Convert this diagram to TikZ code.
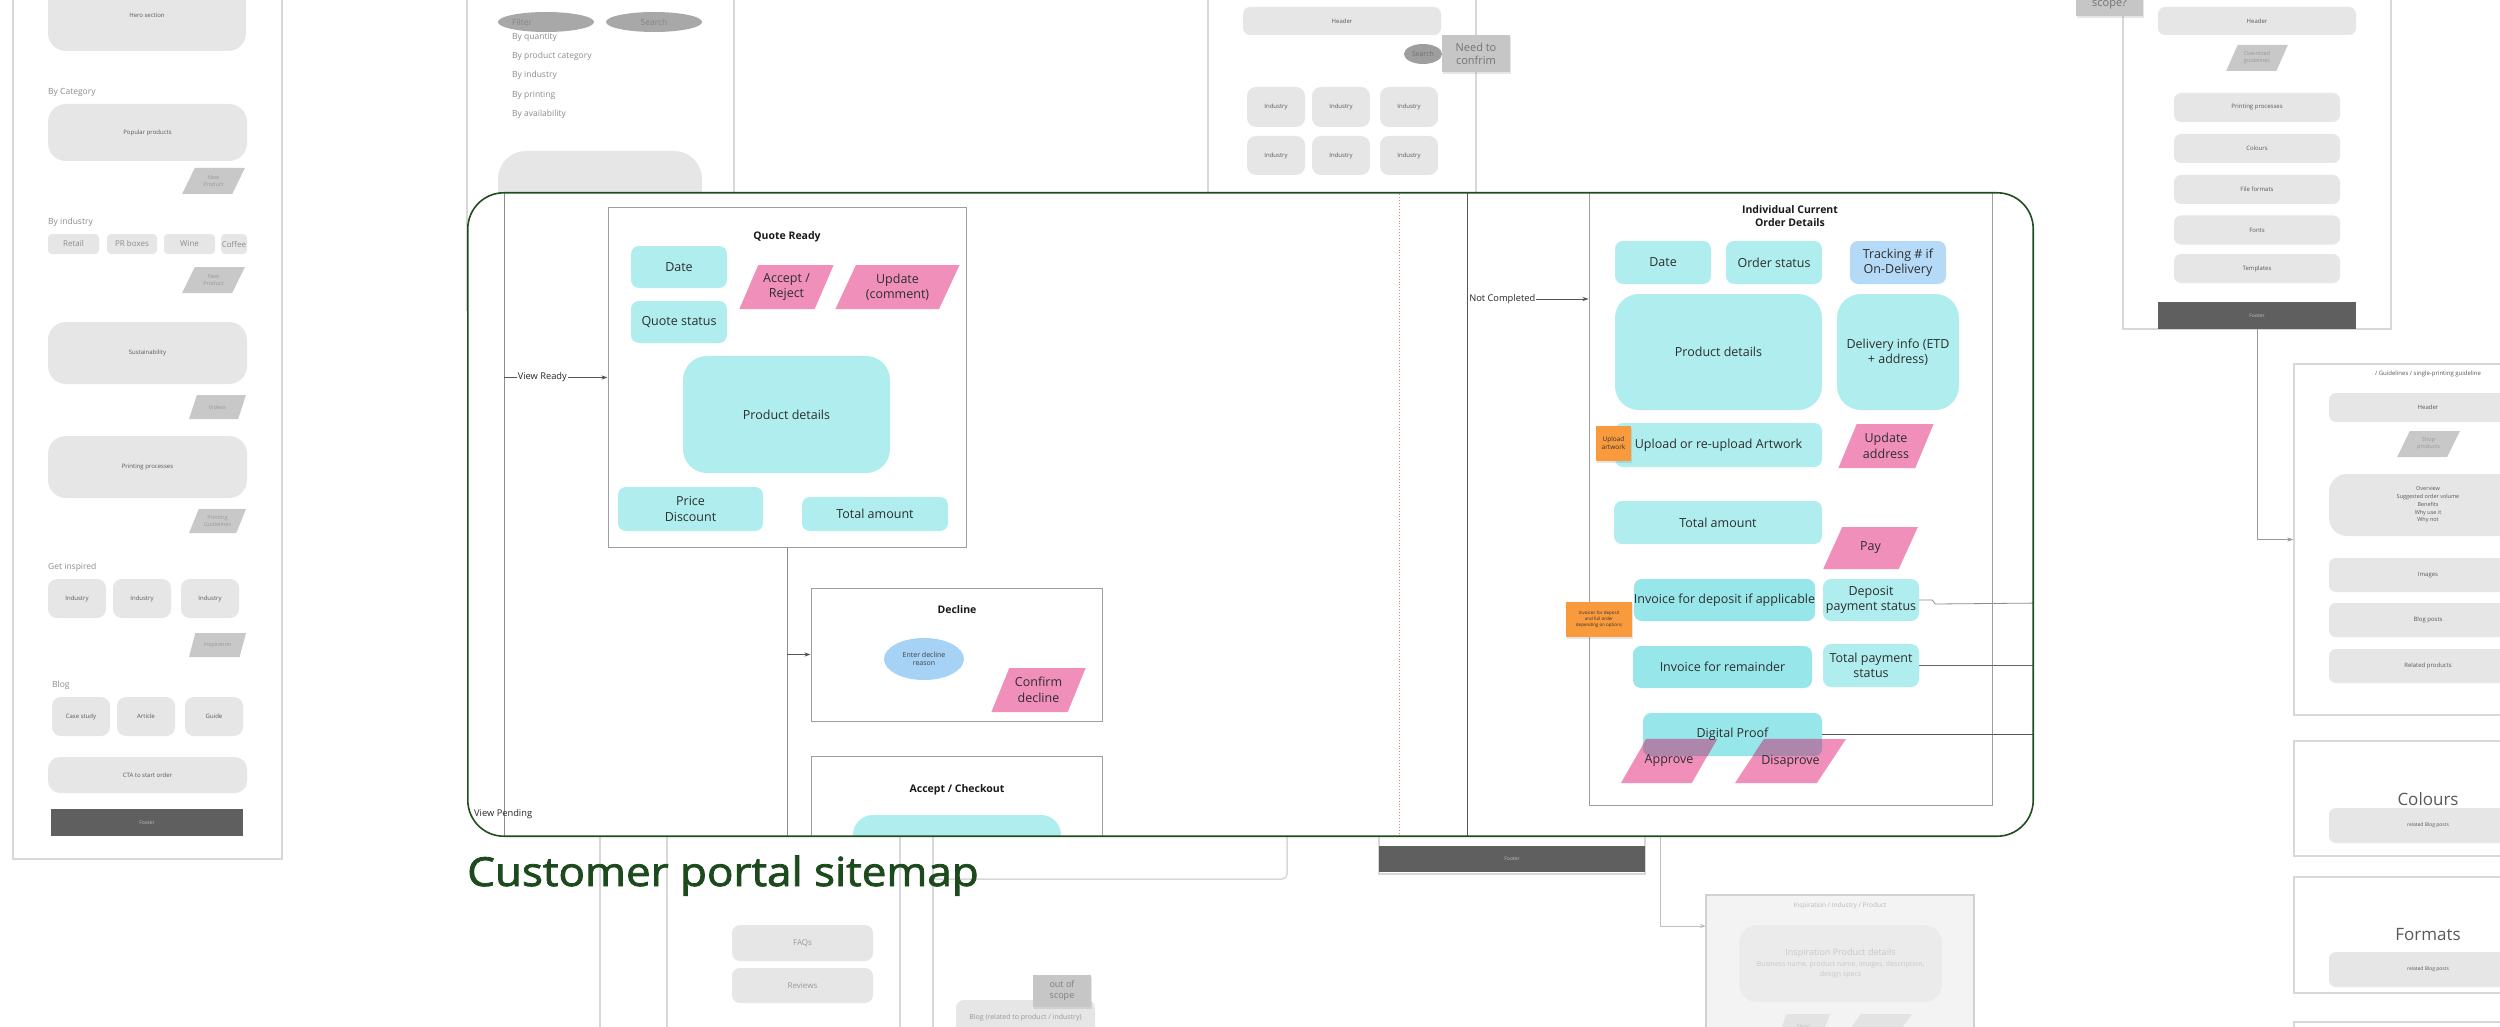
\documentclass[tikz,border=0pt]{standalone}
\usepackage{fontspec}
\setmainfont{Open Sans}
\newfontfamily\titlefont{Open Sans}[FakeStretch=1.1, FakeBold=2]
\usetikzlibrary{arrows.meta, positioning, shapes.geometric, shadows}

\definecolor{cyanbox}{HTML}{AFEDEE}
\definecolor{cyandark}{HTML}{97E6EA}
\definecolor{pinkbox}{HTML}{EF8FBA}
\definecolor{overlapcol}{HTML}{AE86AB}
\definecolor{bluebox}{HTML}{B5DAF7}
\definecolor{blueell}{HTML}{A6D2F6}
\definecolor{boxgray}{HTML}{E6E6E6}
\definecolor{paragray}{HTML}{C8C8C8}
\definecolor{notegray}{HTML}{C6C6C6}
\definecolor{footgray}{HTML}{5F5F5F}
\definecolor{panelgray}{HTML}{D8D8D8}
\definecolor{framegreen}{HTML}{1F4D1F}
\definecolor{titlegreen}{HTML}{1D4A1D}
\definecolor{notecol}{HTML}{F99A3D}
\definecolor{txtdark}{HTML}{2E2E2E}
\definecolor{txtgray}{HTML}{8C8C8C}
\definecolor{linegray}{HTML}{555555}
\definecolor{fadegray}{HTML}{F3F3F3}

\begin{document}
\begin{tikzpicture}[
      x=1pt, y=-1pt,
      panel/.style={rectangle, draw=panelgray, line width=1.5pt, fill=white, inner sep=0pt},
      gbox/.style={rectangle, rounded corners=7pt, fill=boxgray, inner sep=0pt, text=black!65, font=\fontsize{6}{7.5}\selectfont, align=center},
      tag/.style={gbox, rounded corners=4pt, text=txtgray, font=\fontsize{8}{9}\selectfont},
      gpara/.style={trapezium, trapezium left angle=60, trapezium right angle=120, trapezium stretches=true, fill=paragray, inner sep=1pt, text=black!40, font=\fontsize{5.5}{7}\selectfont, align=center},
      glabel/.style={text=txtgray, font=\fontsize{8.5}{10}\selectfont, anchor=west, inner sep=0pt},
      foot/.style={rectangle, fill=footgray, inner sep=0pt, text=black!25, font=\fontsize{5}{6}\selectfont},
      gnote/.style={rectangle, fill=notegray, inner sep=0pt, text=black!55, align=center, drop shadow={opacity=0.2, shadow xshift=1pt, shadow yshift=-2pt}},
      frame/.style={rectangle, draw=black!38, line width=1pt, inner sep=0pt},
      ftitle/.style={font=\fontsize{10.5}{13.5}\selectfont\bfseries, text=black!90, align=center},
      cbox/.style={rectangle, rounded corners=8pt, fill=cyanbox, inner sep=0pt, text=txtdark, font=\fontsize{12.5}{15.5}\selectfont, align=center},
      pbox/.style={trapezium, trapezium left angle=61, trapezium right angle=119, trapezium stretches=true, fill=pinkbox, inner sep=1pt, text=txtdark, font=\fontsize{12.5}{15.5}\selectfont, align=center},
      onote/.style={rectangle, fill=notecol, inner sep=0pt, text=black!80, align=center, drop shadow={opacity=0.2, shadow xshift=1pt, shadow yshift=-2pt}},
      lbl/.style={font=\fontsize{9.3}{11}\selectfont, text=black!85, fill=white, inner sep=1pt},
      arrow/.style={-{Stealth[length=6pt, width=4pt]}, draw=linegray, line width=0.8pt},
      link/.style={draw=linegray, line width=0.8pt},
      pline/.style={draw=panelgray, line width=1.5pt}
  ]
      \useasboundingbox (0,0) rectangle (2500,1027);

      % Home page panel
      \node[panel, minimum width=269, minimum height=869] (homepg) at (147.5,424.5) {};
      \node[gbox, minimum width=198, minimum height=71, rounded corners=18pt] (hero) at (147,15.5) {Hero section};
      \node[glabel] (bycat) at (48,92) {By Category};
      \node[gbox, minimum width=199, minimum height=57, rounded corners=18pt] (popular) at (147.5,132.5) {Popular products};
      \node[gpara, minimum width=63, minimum height=26] (newprod) at (213.5,181) {New\\Product};
      \node[glabel] (byind) at (48,222) {By industry};
      \node[tag, minimum width=51, minimum height=20] (retail) at (73.5,244) {Retail};
      \node[tag, minimum width=50, minimum height=20] (prboxes) at (132,244) {PR boxes};
      \node[tag, minimum width=51, minimum height=20] (wine) at (189.5,244) {Wine};
      \node[tag, minimum width=26, minimum height=20] (coffee) at (234,244) {Coffee};
      \node[gpara, minimum width=63, minimum height=26] (newprodb) at (213.5,280) {New\\Product};
      \node[gbox, minimum width=199, minimum height=62, rounded corners=18pt] (sustain) at (147.5,353) {Sustainability};
      \node[gpara, minimum width=57, minimum height=24] (videos) at (217.5,407) {Videos};
      \node[gbox, minimum width=199, minimum height=62, rounded corners=18pt] (printing) at (147.5,467) {Printing processes};
      \node[gpara, minimum width=57, minimum height=24] (pguide) at (217.5,521) {Printing\\Guidelines};
      \node[glabel] (getinsp) at (48,567) {Get inspired};
      \node[gbox, minimum width=58, minimum height=39, rounded corners=9pt] (inda) at (77,598.5) {Industry};
      \node[gbox, minimum width=58, minimum height=39, rounded corners=9pt] (indb) at (142,598.5) {Industry};
      \node[gbox, minimum width=58, minimum height=39, rounded corners=9pt] (indc) at (210,598.5) {Industry};
      \node[gpara, minimum width=57, minimum height=24] (inspire) at (217.5,645) {Inspiration};
      \node[glabel] (bloglbl) at (52,685) {Blog};
      \node[gbox, minimum width=58, minimum height=39, rounded corners=9pt] (casestudy) at (81,716.5) {Case study};
      \node[gbox, minimum width=58, minimum height=39, rounded corners=9pt] (article) at (146,716.5) {Article};
      \node[gbox, minimum width=58, minimum height=39, rounded corners=9pt] (guide) at (214,716.5) {Guide};
      \node[gbox, minimum width=199, minimum height=36, rounded corners=12pt] (cta) at (147.5,775) {CTA to start order};
      \node[foot, minimum width=192, minimum height=27] (homefoot) at (147,822.5) {Footer};

      % Catalogue panel
      \node[panel, minimum width=267, minimum height=320] (catpg) at (600.5,150) {};
      \node[ellipse, fill=black!34, minimum width=96, minimum height=20, inner sep=0pt] (filter) at (546,22) {};
      \node[glabel, text=black!48] (filtertxt) at (512,22) {Filter};
      \node[ellipse, fill=black!34, minimum width=96, minimum height=20, inner sep=0pt, text=black!48, font=\fontsize{8.5}{10}\selectfont] (search) at (654,22) {Search};
      \node[glabel] (byqty) at (512,37) {By quantity};
      \node[glabel] (bycategory) at (512,56) {By product category};
      \node[glabel] (byindustry) at (512,75) {By industry};
      \node[glabel] (byprint) at (512,95) {By printing};
      \node[glabel] (byavail) at (512,114) {By availability};
      \node[gbox, minimum width=204, minimum height=149, rounded corners=28pt] (catbig) at (600,225.5) {};

      % Industry panel
      \node[panel, minimum width=268, minimum height=320] (indpg) at (1342,150) {};
      \node[gbox, minimum width=198, minimum height=28] (headerc) at (1342,21) {Header};
      \node[ellipse, fill=black!38, minimum width=38, minimum height=20, inner sep=0pt, text=black!55, font=\fontsize{7}{8}\selectfont] (searchc) at (1423,54) {Search};
      \node[gnote, minimum width=68, minimum height=37, font=\fontsize{11}{13}\selectfont] (confirmnote) at (1476,53.5) {Need to\\confrim};
      \node[gbox, minimum width=58, minimum height=40, rounded corners=9pt] (igrida) at (1276,107) {Industry};
      \node[gbox, minimum width=58, minimum height=40, rounded corners=9pt] (igridb) at (1341,107) {Industry};
      \node[gbox, minimum width=58, minimum height=40, rounded corners=9pt] (igridc) at (1409,107) {Industry};
      \node[gbox, minimum width=58, minimum height=39, rounded corners=9pt] (igridd) at (1276,155.5) {Industry};
      \node[gbox, minimum width=58, minimum height=39, rounded corners=9pt] (igride) at (1341,155.5) {Industry};
      \node[gbox, minimum width=58, minimum height=39, rounded corners=9pt] (igridf) at (1409,155.5) {Industry};

      % Orders panel with footer
      \node[panel, minimum width=266, minimum height=574] (orderpg) at (1512,587) {};
      \node[foot, minimum width=266, minimum height=26] (orderfoot) at (1512,859) {Footer};

      % Lower panels
      \node[panel, minimum width=266, minimum height=400] (faqpg) at (800,900) {};
      \draw[pline] (600,830) -- (600,1040);
      \draw[pline] (900,830) -- (900,1040);
      \coordinate (faqturn) at (1287,879);
      \coordinate (faqend) at (1287,830);
      \draw[pline, rounded corners=5pt] (faqpg.east |- faqturn) -- (faqturn) -- (faqend);
      \node[gbox, minimum width=141, minimum height=36, rounded corners=8pt, text=black!40, font=\fontsize{8}{9}\selectfont] (faqs) at (802.5,943) {FAQs};
      \node[gbox, minimum width=141, minimum height=35, rounded corners=8pt, text=black!40, font=\fontsize{8}{9}\selectfont] (reviews) at (802.5,985.5) {Reviews};
      \node[gbox, minimum width=139, minimum height=36, rounded corners=8pt, text=black!40, font=\fontsize{7}{8}\selectfont] (blogrel) at (1025.5,1018) {Blog (related to product / industry)};
      \node[gnote, minimum width=58, minimum height=32, font=\fontsize{9}{11}\selectfont, text=black!50] (scopenote) at (1062,991) {out of\\scope};

      % Inspiration panel
      \node[panel, fill=fadegray, draw=black!18, minimum width=268, minimum height=165] (insppg) at (1840,977.5) {};
      \node[font=\fontsize{6.5}{8}\selectfont, text=black!28] (insptitle) at (1840,906) {Inspiration / Industry / Product};
      \node[gbox, fill=black!8, minimum width=203, minimum height=77, rounded corners=18pt, text=black!22, font=\fontsize{7}{10.5}\selectfont] (inspbox) at (1840.5,963.5) {{\fontsize{9}{10.5}\selectfont Inspiration Product details}\\Business name, product name, images, description,\\design specs};
      \node[gpara, fill=black!11, text=black!25, minimum width=53, minimum height=26] (inspshop) at (1803.5,1027) {Shop};
      \node[gpara, fill=black!11, minimum width=70, minimum height=26] (inspother) at (1877,1027) {};
      \coordinate (inspsrc) at (1660,830);
      \coordinate (inspin) at (1706,926);
      \draw[arrow, draw=black!25] (inspsrc) |- (inspin);

      % Guidelines panel
      \node[panel, minimum width=268, minimum height=339] (guidepg) at (2257,159.5) {};
      \node[gnote, minimum width=67, minimum height=46] (scopeq) at (2109.5,-7) {};
      \node[text=black!55, font=\fontsize{11}{13}\selectfont, inner sep=0pt] (scopetxt) at (2109.5,4) {scope?};
      \node[gbox, minimum width=198, minimum height=28] (headerd) at (2257,21) {Header};
      \node[gpara, minimum width=62, minimum height=26] (dlguide) at (2257,58) {Download\\guidelines};
      \node[gbox, minimum width=166, minimum height=29] (gprint) at (2257,107.5) {Printing processes};
      \node[gbox, minimum width=166, minimum height=29] (gcolours) at (2257,148.5) {Colours};
      \node[gbox, minimum width=166, minimum height=29] (gformats) at (2257,189.5) {File formats};
      \node[gbox, minimum width=166, minimum height=29] (gfonts) at (2257,230) {Fonts};
      \node[gbox, minimum width=166, minimum height=29] (gtemplates) at (2257,268.5) {Templates};
      \node[foot, minimum width=198, minimum height=27] (guidefoot) at (2257,315.5) {Footer};

      % Single guideline panels
      \node[panel, minimum width=266, minimum height=351] (singlepg) at (2427,539.5) {};
      \draw[arrow, draw=black!40] (guidefoot.south) |- (singlepg.west);
      \node[gbox, fill=none, font=\fontsize{6}{7}\selectfont] (singletitle) at (2428,374) {/ Guidelines / single-printing guideline};
      \node[gbox, minimum width=198, minimum height=29] (headere) at (2428,407.5) {Header};
      \node[gpara, minimum width=63, minimum height=26] (shopprod) at (2428.5,444) {Shop\\products};
      \node[gbox, minimum width=198, minimum height=62, rounded corners=18pt, font=\fontsize{5.5}{7.7}\selectfont] (overview) at (2428,505) {Overview\\Suggested order volume\\Benefits\\Why use it\\Why not};
      \node[gbox, minimum width=198, minimum height=34] (images) at (2428,575) {Images};
      \node[gbox, minimum width=198, minimum height=34] (blogposts) at (2428,620) {Blog posts};
      \node[gbox, minimum width=198, minimum height=34] (related) at (2428,666) {Related products};
      \node[panel, minimum width=266, minimum height=115] (colourpg) at (2427,798.5) {};
      \node[text=black!65, font=\fontsize{17}{20}\selectfont, inner sep=0pt] (colourtxt) at (2428,799) {Colours};
      \node[gbox, minimum width=198, minimum height=35, font=\fontsize{5}{6}\selectfont] (colourblog) at (2428,825.5) {related Blog posts};
      \node[panel, minimum width=266, minimum height=116] (formatpg) at (2427,935) {};
      \node[text=black!65, font=\fontsize{17}{20}\selectfont, inner sep=0pt] (formattxt) at (2428,935) {Formats};
      \node[gbox, minimum width=198, minimum height=35, font=\fontsize{5}{6}\selectfont] (formatblog) at (2428,969.5) {related Blog posts};
      \node[panel, minimum width=266, minimum height=100] (nextpg) at (2427,1072) {};

      % Customer portal frame
      \node[rectangle, rounded corners=36pt, fill=white, minimum width=1565, minimum height=643, inner sep=0pt] (portal) at (1250.5,514.5) {};
      \begin{scope}
        \clip[rounded corners=36pt] (portal.south west) rectangle (portal.north east);

        % View Ready branch
        \coordinate (vrtop) at (504,180);
        \coordinate (vrbot) at (504,850);
        \draw[link, draw=black!45] (vrtop) -- (vrbot);
        \node[frame, minimum width=358, minimum height=339] (quote) at (787,377.5) {};
        \draw[arrow] (vrtop |- quote.west) -- node[lbl, pos=0.37] (viewready) {View Ready} (quote.west);
        \node[ftitle] (quotetitle) at (787,237) {Quote Ready};
        \node[cbox, minimum width=96, minimum height=42] (qdate) at (679,267) {Date};
        \node[cbox, minimum width=96, minimum height=42] (qstatus) at (679,322) {Quote status};
        \node[pbox, minimum width=95, minimum height=44] (qaccept) at (786.5,287) {Accept /\\Reject};
        \node[pbox, minimum width=125, minimum height=44] (qupdate) at (897.5,287) {Update\\(comment)};
        \node[cbox, minimum width=207, minimum height=117, rounded corners=24pt] (qproduct) at (786.5,414.5) {Product details};
        \node[cbox, minimum width=145, minimum height=44] (qprice) at (690.5,509) {Price\\Discount};
        \node[cbox, minimum width=146, minimum height=34] (qtotal) at (875,514) {Total amount};

        % Decline and checkout
        \coordinate (qbot) at (787,850);
        \draw[link, draw=black!45] (quote.south) -- (qbot);
        \node[frame, minimum width=291, minimum height=133] (decline) at (956.5,654.5) {};
        \draw[arrow] (quote.south |- decline.west) -- (decline.west);
        \node[ftitle] (declinetitle) at (957,610) {Decline};
        \node[ellipse, fill=blueell, minimum width=80, minimum height=42, inner sep=0pt, align=center, text=black!75, font=\fontsize{7}{8.5}\selectfont] (reason) at (924,659) {Enter decline\\reason};
        \node[pbox, minimum width=95, minimum height=44] (confirm) at (1038.5,690) {Confirm\\decline};
        \node[frame, minimum width=291, minimum height=140] (checkout) at (956.5,826) {};
        \node[ftitle] (checkouttitle) at (957,790) {Accept / Checkout};
        \node[cbox, minimum width=208, minimum height=70, rounded corners=20pt] (checkoutbox) at (957,850) {};

        % Not completed branch
        \draw[red!55, dotted, line width=0.9pt] (1399,180) -- (1399,850);
        \coordinate (nctop) at (1467,180);
        \coordinate (ncbot) at (1467,850);
        \draw[link] (nctop) -- (ncbot);
        \node[frame, minimum width=403, minimum height=625] (order) at (1790.5,492.5) {};
        \coordinate (ncjoin) at (1467,299);
        \draw[arrow] (ncjoin) -- node[lbl, pos=0.29] (notdone) {Not Completed} (ncjoin -| order.west);
        \node[ftitle] (ordertitle) at (1790,216) {Individual Current\\Order Details};
        \node[cbox, minimum width=96, minimum height=43] (odate) at (1663,262.5) {Date};
        \node[cbox, minimum width=96, minimum height=43] (ostatus) at (1774,262.5) {Order status};
        \node[cbox, fill=bluebox, minimum width=96, minimum height=43] (otrack) at (1898,262.5) {Tracking \# if\\On-Delivery};
        \node[cbox, minimum width=207, minimum height=116, rounded corners=24pt] (oproduct) at (1718.5,352) {Product details};
        \node[cbox, minimum width=122, minimum height=116, rounded corners=24pt] (odelivery) at (1898,352) {Delivery info (ETD\\+ address)};
        \node[cbox, minimum width=207, minimum height=44] (oupload) at (1718.5,445) {Upload or re-upload Artwork};
        \node[onote, minimum width=35, minimum height=35, font=\fontsize{6.5}{8}\selectfont] (uploadnote) at (1613.5,443.5) {Upload\\artwork};
        \node[pbox, minimum width=96, minimum height=44] (oaddress) at (1886,446) {Update\\address};
        \node[cbox, minimum width=208, minimum height=43] (ototal) at (1718,522.5) {Total amount};
        \node[pbox, minimum width=95, minimum height=42] (opay) at (1870.5,548) {Pay};
        \node[cbox, fill=cyandark, minimum width=179, minimum height=42] (odeposit) at (1724.5,600) {Invoice for deposit if applicable};
        \node[cbox, minimum width=96, minimum height=42] (odepstat) at (1871,600) {Deposit\\payment status};
        \node[onote, minimum width=66, minimum height=35, font=\fontsize{4.5}{6}\selectfont] (invoicenote) at (1599,619.5) {Invoices for deposit\\and full order\\depending on options};
        \node[cbox, fill=cyandark, minimum width=179, minimum height=42] (oremain) at (1722.5,667) {Invoice for remainder};
        \node[cbox, minimum width=96, minimum height=43] (opaystat) at (1871,665.5) {Total payment\\status};
        \node[cbox, fill=cyandark, minimum width=179, minimum height=43] (oproof) at (1732.5,734.5) {};
        \node[pbox, minimum width=96, minimum height=44] (oapprove) at (1669,761) {};
        \node[pbox, minimum width=111, minimum height=44] (odisapprove) at (1790.5,761) {};
        \begin{scope}
          \clip[rounded corners=8pt] (oproof.south west) rectangle (oproof.north east);
          \fill[overlapcol] (oapprove.bottom left corner) -- (oapprove.bottom right corner) -- (oapprove.top right corner) -- (oapprove.top left corner) -- cycle;
          \fill[overlapcol] (odisapprove.bottom left corner) -- (odisapprove.bottom right corner) -- (odisapprove.top right corner) -- (odisapprove.top left corner) -- cycle;
        \end{scope}
        \node[text=txtdark, font=\fontsize{12.5}{15}\selectfont] (prooftxt) at (oproof) {Digital Proof};
        \node[text=txtdark, font=\fontsize{12.5}{15}\selectfont] (approvetxt) at (oapprove) {Approve};
        \node[text=txtdark, font=\fontsize{12.5}{15}\selectfont] (disapprovetxt) at (odisapprove) {Disaprove};

        % Status links
        \coordinate (depout) at (2045,603);
        \coordinate (payout) at (2045,665.5);
        \coordinate (proofout) at (2045,734.5);
        \draw[link, draw=black!45] (odepstat.east) -- ++(13,0) -- ++(3,4) -- (depout);
        \draw[link, draw=black!60] (opaystat.east) -- (payout);
        \draw[link] (oproof.east) -- (proofout);
      \end{scope}
      \draw[framegreen, line width=1.6pt, rounded corners=36pt] (portal.south west) rectangle (portal.north east);
      \node[anchor=west, inner sep=0pt, text=black!85, font=\fontsize{9.3}{11}\selectfont] (viewpending) at (474,814) {View Pending};

      % Title
      \node[anchor=base west, inner sep=0pt, text=titlegreen, font=\titlefont\fontsize{40}{48}\selectfont] (title) at (467,886) {Customer portal sitemap};
  \end{tikzpicture}
\end{document}
